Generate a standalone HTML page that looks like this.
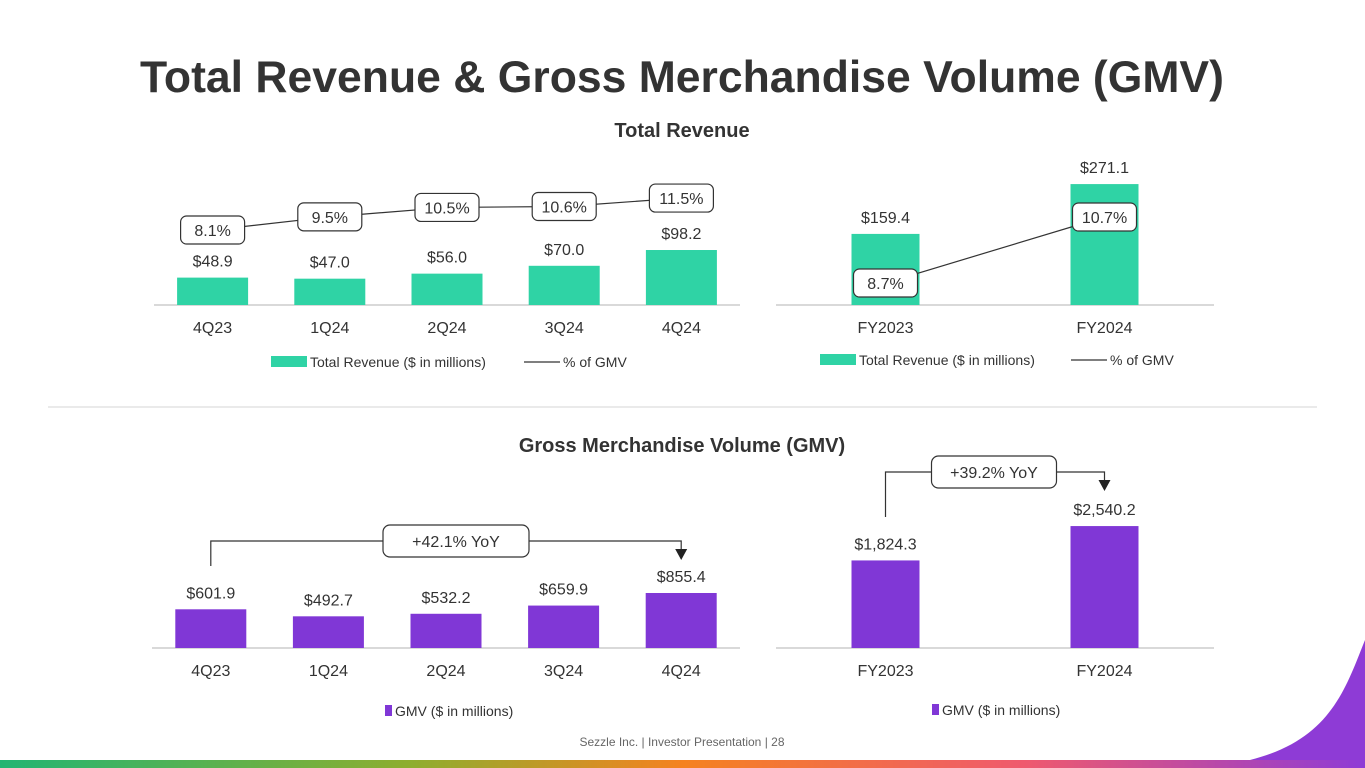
<!DOCTYPE html>
<html><head><meta charset="utf-8">
<style>
html,body{margin:0;padding:0;background:#fff;}
body{width:1365px;height:768px;overflow:hidden;position:relative;font-family:"Liberation Sans",sans-serif;}
svg{position:absolute;left:0;top:0;}
</style></head>
<body>
<svg id="s" width="1365" height="768" viewBox="0 0 1365 768">
<defs>
<linearGradient id="bot" x1="0" x2="1" y1="0" y2="0">
<stop offset="0" stop-color="#22b573"/><stop offset="0.3" stop-color="#8dae2f"/><stop offset="0.5" stop-color="#f58220"/><stop offset="0.75" stop-color="#ef5a6e"/><stop offset="1" stop-color="#8e3bd6"/>
</linearGradient>
</defs>
<text x="682" y="92" text-anchor="middle" font-size="44.5" font-weight="bold" fill="#333">Total Revenue &amp; Gross Merchandise Volume (GMV)</text>
<text x="682" y="137" text-anchor="middle" font-size="20" font-weight="bold" fill="#333">Total Revenue</text>
<text x="682" y="452" text-anchor="middle" font-size="20" font-weight="bold" fill="#333">Gross Merchandise Volume (GMV)</text>
<line x1="48" y1="407" x2="1317" y2="407" stroke="#e4e4e4" stroke-width="1.5"/>
<rect x="0" y="760" width="1365" height="8" fill="url(#bot)"/>
<path d="M1365 640 C1345 690 1330 740 1250 760 L1365 760 Z" fill="#8e3bd6"/>
<text x="682" y="746" text-anchor="middle" font-size="12" fill="#666">Sezzle Inc. | Investor Presentation | 28</text>
<g id="charts"></g>
</svg>
<script>
// Quarterly revenue
const qCats = ["4Q23","1Q24","2Q24","3Q24","4Q24"];
const qRevenue = [48.9,47.0,56.0,70.0,98.2];
const qRevLabels = ["$48.9","$47.0","$56.0","$70.0","$98.2"];
const qPct = [8.1,9.5,10.5,10.6,11.5];
// Annual revenue
const yCats = ["FY2023","FY2024"];
const yRevenue = [159.4,271.1];
const yRevLabels = ["$159.4","$271.1"];
const yPct = [8.7,10.7];
// GMV
const qGmv = [601.9,492.7,532.2,659.9,855.4];
const qGmvLabels = ["$601.9","$492.7","$532.2","$659.9","$855.4"];
const yGmv = [1824.3,2540.2];
const yGmvLabels = ["$1,824.3","$2,540.2"];
const qYoY = "+42.1% YoY";
const yYoY = "+39.2% YoY";

const NS="http://www.w3.org/2000/svg";
const root=document.getElementById('charts');
function mk(tag,attrs,parent){const e=document.createElementNS(NS,tag);for(const k in attrs)e.setAttribute(k,attrs[k]);(parent||root).appendChild(e);return e;}
function txt(x,y,s,size,fill,parent){const t=mk('text',{x:x,y:y,'text-anchor':'middle','font-size':size,fill:fill},parent);t.textContent=s;return t;}

function barChart(o){
  const g=mk('g',{});
  
  
  const n=o.cats.length;
  const step=(o.x1-o.x0)/n;
  const xc=i=>o.x0+step*(i+0.5);
  const ys=v=>o.base-v*o.scale;
  const ax=mk('line',{x1:o.x0,y1:o.base,x2:o.x1,y2:o.base,stroke:'#d9d9d9','stroke-width':2},g);
  
  
  o.vals.forEach((v,i)=>{
    const r=mk('rect',{x:xc(i)-o.bw/2,y:ys(v),width:o.bw,height:o.base-ys(v),fill:o.color},g);
    
    
    const l=txt(xc(i),ys(v)-11,o.labels[i],16,'#333',g);
    
    
    const c=txt(xc(i),o.base+28,o.cats[i],16,'#333',g);
    
    
  });
  if(o.pct){
    const py=p=>o.pBase-(p-o.pMin)*o.pScale;
    const pts=o.pct.map((p,i)=>xc(i)+','+py(p)).join(' ');
    const pl=mk('polyline',{points:pts,fill:'none',stroke:'#333','stroke-width':1.2},g);
    
    
    o.pct.forEach((p,i)=>{
      const b=mk('rect',{x:xc(i)-32,y:py(p)-14,width:64,height:28,rx:6,fill:'#fff',stroke:'#333','stroke-width':1.2},g);
      
      
      const t=txt(xc(i),py(p)+6,p.toFixed(1)+'%',16,'#333',g);
      
      
    });
  }
  if(o.yoy){
    const lx=xc(0), rx=xc(n-1), by=o.yoyY;
    const br=mk('polyline',{points:lx+','+(by+o.leftDrop)+' '+lx+','+by+' '+rx+','+by+' '+rx+','+(by+8),fill:'none',stroke:'#333','stroke-width':1.2},g);
    
    
    const ar=mk('path',{d:'M'+(rx-6)+' '+(by+8)+' L'+(rx+6)+' '+(by+8)+' L'+rx+' '+(by+19)+' Z',fill:'#222'},g);
    
    
    const bx=o.yoyX;
    const b=mk('rect',{x:bx-o.yoyW/2,y:by-16,width:o.yoyW,height:32,rx:7,fill:'#fff',stroke:'#333','stroke-width':1.2},g);
    
    
    const t=txt(bx,by+6,o.yoy,16,'#333',g);
    
    
  }
  const lg=mk('g',{},g);
  
  
  const lr=mk('rect',{x:o.legX,y:o.legY-6,width:o.legW,height:11,fill:o.color},lg);
  
  
  const lt=mk('text',{x:o.legX+o.legW+3,y:o.legY+5,'font-size':14,fill:'#333'},lg);
  lt.textContent=o.legText;
  
  
  if(o.legLineX){
    const ll=mk('line',{x1:o.legLineX,y1:o.legY,x2:o.legLineX+36,y2:o.legY,stroke:'#333','stroke-width':1.2},lg);
    
    
    const l2=mk('text',{x:o.legLineX+39,y:o.legY+5,'font-size':14,fill:'#333'},lg);
    l2.textContent='% of GMV';
    
    
  }
}
const G='#2fd3a5', P='#8037d6';
barChart({name:'quarterly-revenue-chart',cats:qCats,vals:qRevenue,labels:qRevLabels,x0:154,x1:740,base:305,scale:0.56,bw:71,color:G,
  pct:qPct,pBase:230,pMin:8.1,pScale:9.4,legX:271,legY:362,legW:36,legText:'Total Revenue ($ in millions)',legLineX:524});
barChart({name:'annual-revenue-chart',cats:yCats,vals:yRevenue,labels:yRevLabels,x0:776,x1:1214,base:305,scale:0.446,bw:68,color:G,
  pct:yPct,pBase:283,pMin:8.7,pScale:33,legX:820,legY:360,legW:36,legText:'Total Revenue ($ in millions)',legLineX:1071});
barChart({name:'quarterly-gmv-chart',cats:qCats,vals:qGmv,labels:qGmvLabels,x0:152,x1:740,base:648,scale:0.0643,bw:71,color:P,
  yoy:qYoY,yoyY:541,yoyX:456,yoyW:146,leftDrop:25,legX:385,legY:711,legW:7,legText:'GMV ($ in millions)'});
barChart({name:'annual-gmv-chart',cats:yCats,vals:yGmv,labels:yGmvLabels,x0:776,x1:1214,base:648,scale:0.048,bw:68,color:P,
  yoy:yYoY,yoyY:472,yoyX:994,yoyW:125,leftDrop:45,legX:932,legY:710,legW:7,legText:'GMV ($ in millions)'});
</script>
</body></html>
